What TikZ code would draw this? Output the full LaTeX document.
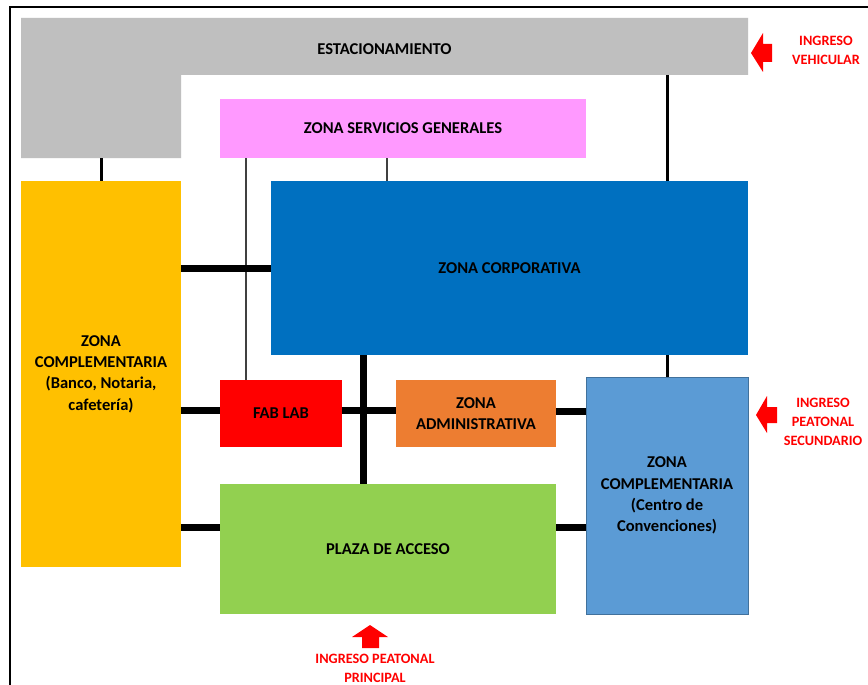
\documentclass[tikz,border=0pt]{standalone}
\usepackage{fontspec}
\setmainfont{Carlito}
\usetikzlibrary{calc}
\definecolor{cgray}{HTML}{BFBFBF}
\definecolor{cpink}{HTML}{FF99FF}
\definecolor{cblue}{HTML}{0070C0}
\definecolor{cyellow}{HTML}{FFC000}
\definecolor{cred}{HTML}{FF0000}
\definecolor{corange}{HTML}{ED7D31}
\definecolor{clblue}{HTML}{5B9BD5}
\definecolor{clbluedk}{HTML}{41719C}
\definecolor{cgreen}{HTML}{92D050}
\tikzset{
  zone/.style={rectangle, inner sep=0pt, align=center, font=\fontsize{12.4}{16}\selectfont\bfseries, text=black},
  heavy/.style={line width=5.25pt, black},
  medium/.style={line width=2.25pt, black},
  thinl/.style={line width=1pt, black!75},
  redtxt/.style={align=center, text=cred, font=\fontsize{10.7}{14.3}\selectfont\bfseries},
  redarrow/.style={fill=cred, draw=none}
}
\begin{document}
\begin{tikzpicture}[x=0.75pt,y=-0.75pt]
\useasboundingbox (0,0) rectangle (868,685);
\fill[white] (0,0) rectangle (868,685);
% frame
\draw[line width=1.6pt] (10,700) -- (10,7) -- (880,7);
% parking L-shape
\fill[cgray] (21,18) -- (748,18) -- (748,75) -- (181,75) -- (181,158) -- (21,158) -- cycle;
\node[zone] (estac) at (384.5,49) {ESTACIONAMIENTO};
\coordinate (estacL) at (101,158);
\coordinate (estacR) at (667,75);
% zones
\node[zone, fill=cpink, minimum width=366*0.75pt, minimum height=59*0.75pt] (serv) at (403,128.5) {ZONA SERVICIOS GENERALES};
\node[zone, fill=cblue, minimum width=477*0.75pt, minimum height=174*0.75pt] (corp) at (509.5,268) {ZONA CORPORATIVA};
\node[zone, fill=cyellow, minimum width=160*0.75pt, minimum height=386*0.75pt] (complL) at (101,374) {ZONA\\COMPLEMENTARIA\\(Banco, Notaria,\\cafetería)};
\node[zone, fill=cred, minimum width=122*0.75pt, minimum height=67*0.75pt] (fablab) at (281,413.5) {FAB LAB};
\node[zone, fill=corange, minimum width=160*0.75pt, minimum height=67*0.75pt] (admin) at (476,413.5) {ZONA\\ADMINISTRATIVA};
\node[zone, fill=clblue, draw=clbluedk, line width=0.6pt, minimum width=162*0.75pt, minimum height=237*0.75pt] (complR) at (667,495.5) {ZONA\\COMPLEMENTARIA\\(Centro de\\Convenciones)};
\node[zone, fill=cgreen, minimum width=336*0.75pt, minimum height=130*0.75pt] (plaza) at (388,549) {PLAZA DE ACCESO};
% connectors
\draw[medium] (estacL) -- (complL.north);
\draw[medium] (estacR) -- (corp.north -| estacR);
\draw[medium] (corp.south -| complR.north) -- (complR.north);
\draw[thinl] (serv.south -| 246,0) -- (fablab.north -| 246,0);
\draw[thinl] (serv.south -| 387,0) -- (corp.north -| 387,0);
\draw[heavy] (complL.east |- corp.west) -- (corp.west);
\draw[heavy] (complL.east |- 0,410) -- (fablab.west |- 0,410);
\draw[heavy] (fablab.east |- 0,410) -- (admin.west |- 0,410);
\draw[heavy] (admin.east |- 0,411) -- (complR.west |- 0,411);
\draw[heavy] (corp.south -| 363,0) -- (plaza.north -| 363,0);
\draw[heavy] (complL.east |- 0,527) -- (plaza.west |- 0,527);
\draw[heavy] (plaza.east |- 0,527) -- (complR.west |- 0,527);
% entrance arrows
\fill[redarrow] (751,53) -- (763,33) -- (763,44) -- (772,44) -- (772,62) -- (763,62) -- (763,72) -- cycle;
\node[redtxt] (ingveh) at (826,50.5) {INGRESO\\VEHICULAR};
\fill[redarrow] (756,415) -- (767,396) -- (767,407) -- (777,407) -- (777,423) -- (767,423) -- (767,433) -- cycle;
\node[redtxt, anchor=east] (ingsec) at (867,422) {\hfill INGRESO\hfill\null\\\hfill PEATONAL\hfill\null\\SECUNDARIO};
\fill[redarrow] (370,625) -- (388,637) -- (379,637) -- (379,648) -- (362,648) -- (362,637) -- (352,637) -- cycle;
\node[redtxt] (ingppal) at (375,668.5) {INGRESO PEATONAL\\PRINCIPAL};
\end{tikzpicture}
\end{document}
